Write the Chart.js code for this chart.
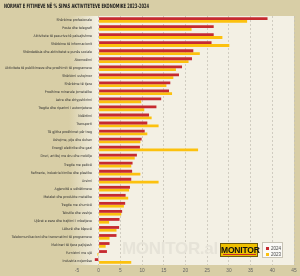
<!DOCTYPE html>
<html>
<head>
<meta charset="utf-8">
<script src="https://cdn.jsdelivr.net/npm/chart.js@4.4.1/dist/chart.umd.min.js"></script>
<style>
  html, body { margin: 0; padding: 0; background: #d8cea6; }
  #wrap { position: relative; width: 300px; height: 276px; overflow: hidden; }
  canvas { position: absolute; left: 0; top: 0; }
  #title { position: absolute; left: 4px; top: 2px; font-family: "Liberation Sans Narrow", "DejaVu Sans Condensed", sans-serif; font-weight: bold; font-size: 6px; color: #1a1a1a; white-space: nowrap; transform-origin: 0 0; }
  #wm { position: absolute; left: 122px; top: 239px; font-family: "Liberation Sans", Arial, sans-serif; font-weight: bold; font-size: 17px; color: #e6e3d8; white-space: nowrap; letter-spacing: -0.3px; }
  #logo { position: absolute; left: 220px; top: 243px; width: 38px; height: 14px; background: #efc000; border: 0.5px solid #6b5a10; box-sizing: border-box; }
  #logo .t { position: absolute; left: 0px; top: 1.5px; width: 37px; text-align: center; font-family: "Liberation Sans", Arial, sans-serif; font-weight: bold; font-size: 8.5px; line-height: 8px; color: #111; letter-spacing: -0.2px; }
  #logo .u { position: absolute; left: 2px; top: 9.5px; width: 33px; height: 1px; background: #c62a30; }
  #legend { position: absolute; left: 262px; top: 242px; width: 21px; height: 16px; background: #fbfaf6; border: 0.5px solid #c8c4b6; box-sizing: border-box; font-family: "Liberation Sans", Arial, sans-serif; font-size: 4.5px; color: #444; }
  #legend .it { position: absolute; left: 3px; height: 5px; line-height: 5px; white-space: nowrap; }
  #legend .sq { display: inline-block; width: 3px; height: 3px; vertical-align: middle; margin-right: 2px; }
</style>
</head>
<body>
<div id="wrap">
  <canvas id="c" width="300" height="276"></canvas>
  <div id="title">NORMAT E FITIMEVE NË % SIPAS AKTIVITETEVE EKONOMIKE 2023-2024</div>
  <div id="wm">MONITOR.al</div>
  <div id="logo"><div class="t">MONITOR</div><div class="u"></div></div>
  <div id="legend"></div>
</div>
<script>
const categories = [
  "Shërbime profesionale",
  "Posta dhe telegrafi",
  "Aktivitete të pasurive të paluajtshme",
  "Shërbime të informacionit",
  "Shëndetësia dhe aktivitetet e punës sociale",
  "Akomodimi",
  "Aktivitete të publikimeve dhe prodhimit të programeve",
  "Shërbimi ushqimor",
  "Shërbime të tjera",
  "Prodhime minerale jometalike",
  "Letra dhe shtypshkrimi",
  "Tregtia dhe riparimi i automjeteve",
  "Ndërtimi",
  "Transporti",
  "Të gjitha prodhimet për treg",
  "Ushqime, pije dhe duhan",
  "Energji elektrike dhe gazi",
  "Druri, artikuj me dru dhe mobilje",
  "Tregtia me pakicë",
  "Rafineria, industria kimike dhe plastike",
  "Arsimi",
  "Agjencitë e udhëtimeve",
  "Metalet dhe produkte metalike",
  "Tregtia me shumicë",
  "Tekstile dhe veshje",
  "Ujërat e zeza dhe trajtimi i mbetjeve",
  "Lëkurë dhe këpucë",
  "Telekomunikacioni dhe transmetimi të programeve",
  "Makineri të tjera pajisjesh",
  "Furnizimi me ujë",
  "Industria nxjerrëse"
];
const values2024 = [38.9, 26.5, 26.5, 26.0, 21.8, 21.5, 19.2, 18.5, 16.5, 16.2, 14.4, 13.3, 11.6, 11.2, 10.6, 9.9, 9.5, 8.8, 7.8, 7.7, 7.5, 7.2, 6.2, 6.1, 5.4, 4.8, 4.7, 4.1, 2.5, 1.9, -0.9];
const values2023 = [34.2, 21.4, 28.5, 30.1, 23.3, 20.7, 17.8, 17.2, 15.6, 16.9, 9.8, 10.5, 12.2, 13.8, 11.2, 9.6, 22.9, 8.3, 7.5, 9.6, 13.8, 7.0, 6.8, 5.8, 5.2, 2.4, 4.1, 2.5, 1.6, -0.3, 7.5];
const seriesNames = ["2024", "2023"];
const seriesColors = ["#c62a30", "#fcc10e"];
const xTicks = [-5, 0, 5, 10, 15, 20, 25, 30, 35, 40, 45];

// title width fit
const title = document.getElementById('title');
title.style.transform = 'scaleX(' + (145 / title.getBoundingClientRect().width) + ')';

// legend
const leg = document.getElementById('legend');
seriesNames.forEach((n, i) => {
  const d = document.createElement('div');
  d.className = 'it';
  d.style.top = (2.5 + i * 6) + 'px';
  d.innerHTML = '<span class="sq" style="background:' + seriesColors[i] + '"></span>' + n;
  leg.appendChild(d);
});

const bgPlugin = {
  id: 'bg',
  beforeDraw(chart) {
    const {ctx, chartArea: a} = chart;
    ctx.save();
    ctx.fillStyle = '#d8cea6';
    ctx.fillRect(0, 0, chart.width, chart.height);
    const g = ctx.createLinearGradient(a.left - 8, 0, a.left + 20, 0);
    g.addColorStop(0, '#d8cea6');
    g.addColorStop(1, '#f3f0e4');
    ctx.fillStyle = g;
    ctx.fillRect(a.left - 8, a.top, a.right - a.left + 8, a.bottom - a.top);
    ctx.restore();
  }
};

new Chart(document.getElementById('c'), {
  type: 'bar',
  data: {
    labels: categories,
    datasets: [
      { label: seriesNames[0], data: values2024, backgroundColor: seriesColors[0], categoryPercentage: 0.7, barPercentage: 1.0 },
      { label: seriesNames[1], data: values2023, backgroundColor: seriesColors[1], categoryPercentage: 0.7, barPercentage: 1.0 }
    ]
  },
  options: {
    indexAxis: 'y',
    responsive: false,
    animation: false,
    layout: { padding: { left: 0, right: 6, top: 16, bottom: 0 } },
    plugins: { legend: { display: false }, tooltip: { enabled: false } },
    scales: {
      x: {
        type: 'linear',
        min: -5, max: 45,
        afterBuildTicks(s) { s.ticks = xTicks.map(v => ({ value: v })); },
        afterFit(s) { s.height = 11; },
        grid: { color: (c) => c.tick && c.tick.value === -5 ? 'rgba(0,0,0,0)' : '#c7c3b6', lineWidth: 0.8, drawTicks: false },
        border: { display: false, dash: [2, 2] },
        ticks: { padding: 2.5, color: '#666', font: { family: 'Liberation Sans', size: 4.8 } }
      },
      y: {
        afterFit(s) { s.width = 77; s._computeLabelArea = () => undefined; },
        grid: { display: false, drawTicks: false },
        border: { display: false },
        ticks: { padding: -15, color: '#2e2e2e', autoSkip: false, font: { family: "'Liberation Sans Narrow', 'DejaVu Sans Condensed', sans-serif", size: 3.5 } }
      }
    }
  },
  plugins: [bgPlugin]
});
</script>
</body>
</html>
